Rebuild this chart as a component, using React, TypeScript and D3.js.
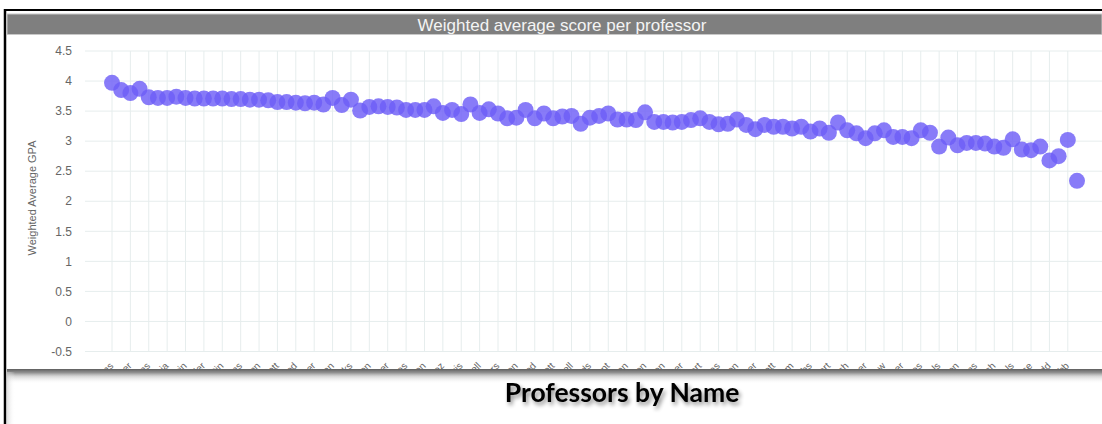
import React from "react";
import * as d3 from "d3";

const professors: string[] = [
  "Adams", "Baker", "Carter", "Davis", "Evans", "Foster", "Garcia", "Harris", "Irwin", "Jones",
  "Keller", "Lewis", "Martin", "Nelson", "Owens", "Parker", "Quinn", "Reed", "Scott", "Turner",
  "Underwood", "Vaughn", "Walker", "Young", "Zimmerman", "Allen", "Brooks", "Collins", "Dixon", "Ellis",
  "Fisher", "Gordon", "Hayes", "Ingram", "Jensen", "King", "Lopez", "Morgan", "Norris", "Ortiz",
  "Powell", "Ramsey", "Sanders", "Taylor", "Upton", "Vance", "Wood", "Yates", "Abbott", "Bennett",
  "Campbell", "Douglas", "Edwards", "Fleming", "Grant", "Hughes", "Jordan", "Kelly", "Lawson", "Mitchell",
  "Newton", "Oliver", "Porter", "Russell", "Stewart", "Thompson", "Vargas", "Warren", "Wilson", "Bailey",
  "Cooper", "Dunn", "Elliott", "Ford", "Graham", "Hunt", "Jacobs", "Knight", "Lambert", "Marshall",
  "Nash", "Obrien", "Palmer", "Reyes", "Shaw", "Tucker", "Wagner", "Wells", "Barnes", "Chapman",
  "Daniels", "Ferguson", "Gibson", "Holland", "Jenkins", "Kennedy", "Lynch", "Murphy", "Nichols", "Payne",
  "Rose", "Simmons", "Todd", "Watson", "Webb", "Bishop",
];

const weightedGPA: number[] = [
  3.97, 3.85, 3.80, 3.87, 3.73, 3.72, 3.72, 3.74, 3.72, 3.71,
  3.71, 3.71, 3.71, 3.70, 3.70, 3.69, 3.69, 3.68, 3.65, 3.65,
  3.64, 3.63, 3.64, 3.61, 3.72, 3.60, 3.69, 3.51, 3.57, 3.58,
  3.57, 3.56, 3.52, 3.52, 3.52, 3.58, 3.47, 3.52, 3.45, 3.61,
  3.47, 3.53, 3.46, 3.38, 3.39, 3.52, 3.38, 3.46, 3.38, 3.41,
  3.42, 3.29, 3.39, 3.42, 3.46, 3.36, 3.36, 3.35, 3.48, 3.32,
  3.32, 3.31, 3.32, 3.35, 3.38, 3.32, 3.28, 3.29, 3.36, 3.27,
  3.20, 3.27, 3.24, 3.24, 3.21, 3.24, 3.16, 3.21, 3.14, 3.31,
  3.18, 3.13, 3.05, 3.13, 3.18, 3.07, 3.07, 3.05, 3.18, 3.14,
  2.91, 3.06, 2.93, 2.97, 2.97, 2.96, 2.91, 2.89, 3.03, 2.86,
  2.85, 2.91, 2.68, 2.75, 3.02, 2.34,
];

const yTicks: number[] = [4.5, 4, 3.5, 3, 2.5, 2, 1.5, 1, 0.5, 0, -0.5];

const chartTitle = "Weighted average score per professor";
const yAxisTitle = "Weighted Average GPA";
const xAxisTitle = "Professors by Name";

export default function App() {
  const W = 1102;
  const H = 424;
  const plotLeft = 85;
  const plotRight = 1102;
  const plotTop = 51;
  const plotBottom = 351.5;

  const n = weightedGPA.length;
  const names = professors.slice(0, n);
  const x = d3.scalePoint<string>().domain(names).range([112, 1077]);
  const y = d3.scaleLinear().domain([-0.5, 4.5]).range([plotBottom, plotTop]);

  const font = "'Liberation Sans', Arial, sans-serif";

  return (
    <svg
      width={W}
      height={H}
      viewBox={`0 0 ${W} ${H}`}
      style={{ position: "absolute", left: 0, top: 0, background: "#fff" }}
    >
      <defs>
        <clipPath id="labelClip">
          <rect x={0} y={0} width={W} height={369} />
        </clipPath>
        <linearGradient id="shadowGrad" x1="0" y1="0" x2="0" y2="1">
          <stop offset="0" stopColor="#555" stopOpacity={0.95} />
          <stop offset="0.25" stopColor="#777" stopOpacity={0.8} />
          <stop offset="0.5" stopColor="#aaa" stopOpacity={0.45} />
          <stop offset="1" stopColor="#fff" stopOpacity={0} />
        </linearGradient>
        <linearGradient id="sideGrad" x1="0" y1="0" x2="1" y2="0">
          <stop offset="0" stopColor="#ccc" stopOpacity={0.6} />
          <stop offset="1" stopColor="#fff" stopOpacity={0} />
        </linearGradient>
        <filter id="txtShadow" x="-10%" y="-30%" width="130%" height="180%">
          <feGaussianBlur in="SourceAlpha" stdDeviation="2" />
          <feOffset dx="2" dy="3" result="b" />
          <feComponentTransfer>
            <feFuncA type="linear" slope="0.45" />
          </feComponentTransfer>
          <feMerge>
            <feMergeNode />
            <feMergeNode in="SourceGraphic" />
          </feMerge>
        </filter>
      </defs>

      {/* outer frame */}
      <line x1={5} y1={10} x2={W} y2={10} stroke="#000" strokeWidth={2} />
      <line x1={5} y1={9} x2={5} y2={H} stroke="#000" strokeWidth={2.5} />

      {/* title bar */}
      <rect x={7} y={14} width={W - 7} height={20.5} fill="#7f7f7f" stroke="#c8c8c8" strokeWidth={1} />
      <text
        x={562}
        y={30.5}
        textAnchor="middle"
        fontFamily={font}
        fontSize={17}
        fill="#f4f4f4"
      >
        {chartTitle}
      </text>

      {/* horizontal grid */}
      {yTicks.map((t) => (
        <line
          key={"h" + t}
          x1={plotLeft}
          x2={plotRight}
          y1={y(t)}
          y2={y(t)}
          stroke="#e6eded"
          strokeWidth={1}
        />
      ))}
      {/* vertical grid at labelled categories */}
      {names.map((nm, i) =>
        i % 2 === 0 ? (
          <line
            key={"v" + i}
            x1={x(nm)}
            x2={x(nm)}
            y1={plotTop}
            y2={plotBottom}
            stroke="#e6eded"
            strokeWidth={1}
          />
        ) : null
      )}

      {/* y tick labels */}
      {yTicks.map((t) => (
        <text
          key={"yt" + t}
          x={72}
          y={y(t)}
          dy="0.35em"
          textAnchor="end"
          fontFamily={font}
          fontSize={12}
          fill="#666"
        >
          {String(t)}
        </text>
      ))}

      {/* y axis title */}
      <text
        transform={`translate(35.5, 198) rotate(-90)`}
        textAnchor="middle"
        fontFamily={font}
        fontSize={11}
        fill="#666"
      >
        {yAxisTitle}
      </text>

      {/* x tick labels, clipped */}
      <g clipPath="url(#labelClip)">
        {names.map((nm, i) =>
          i % 2 === 0 ? (
            <text
              key={"xl" + i}
              transform={`translate(${(x(nm) as number) + 2}, 366.5) rotate(-45)`}
              textAnchor="end"
              fontFamily={font}
              fontSize={10}
              fill="#666"
            >
              {nm}
            </text>
          ) : null
        )}
      </g>

      {/* points */}
      <g>
        {weightedGPA.map((v, i) => (
          <circle
            key={"p" + i}
            cx={x(names[i])}
            cy={y(v)}
            r={8}
            fill="rgb(110, 94, 246)"
            fillOpacity={0.82}
          />
        ))}
      </g>

      {/* bottom shadow edge of the pasted chart */}
      <rect x={7} y={369} width={W - 7} height={15} fill="url(#shadowGrad)" />
      <rect x={7} y={372} width={8} height={H - 372} fill="url(#sideGrad)" />

      {/* x axis title */}
      <text
        x={622}
        y={402}
        textAnchor="middle"
        fontFamily="Lato, 'Liberation Sans', sans-serif"
        fontWeight={700}
        fontSize={26.5}
        fill="#000"
        filter="url(#txtShadow)"
      >
        {xAxisTitle}
      </text>
    </svg>
  );
}
